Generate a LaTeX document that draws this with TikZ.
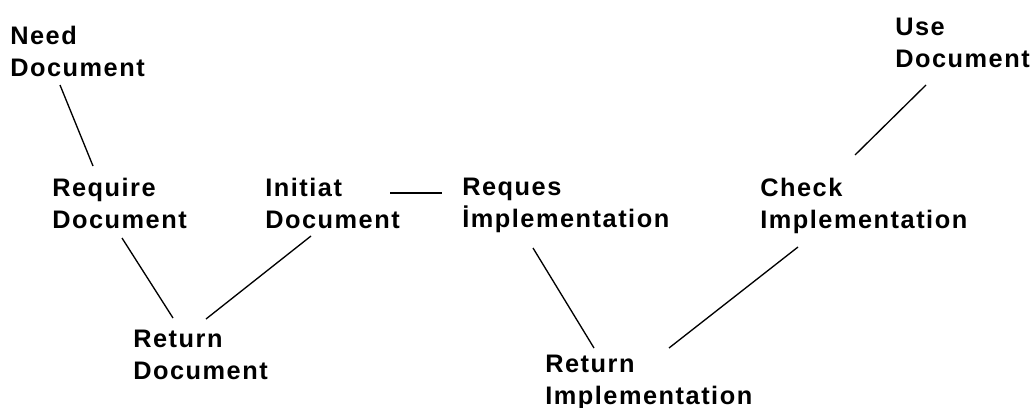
\documentclass[tikz,border=0pt]{standalone}
\usepackage{fontspec}
\newfontfamily\diagfont[LetterSpace=6]{Liberation Sans}
\usepackage{tikz}
\usetikzlibrary{calc}

\begin{document}
\begin{tikzpicture}[x=0.75pt, y=-0.75pt,
  actnode/.style={anchor=north west, inner sep=0pt, align=left, font=\diagfont\bfseries\fontsize{19}{24}\selectfont},
  link/.style={line width=1pt, black}]
\useasboundingbox (0,0) rectangle (1034,407);
\node[actnode] (need) at (10,26) {Need\\Document};
\node[actnode] (require) at (52,178) {Require\\Document};
\node[actnode] (initiat) at (265,178) {Initiat\\Document};
\node[actnode] (reques) at (462,178) {Reques\\İmplementation};
\node[actnode] (check) at (760,178) {Check\\Implementation};
\node[actnode] (use) at (895,18) {Use\\Document};
\node[actnode] (retdoc) at (133,330) {Return\\Document};
\node[actnode] (retimpl) at (545,355) {Return\\Implementation};
\draw[link] ($(need.north west)+(50,59)$) -- ($(require.north west)+(41,-12)$);
\draw[link] ($(require.north west)+(70,60)$) -- ($(retdoc.north west)+(40,-12)$);
\draw[link] ($(initiat.north west)+(46,58)$) -- ($(retdoc.north west)+(73,-11)$);
\draw[link] ($(initiat.north west)+(125,15)$) -- ($(reques.north west)+(-20,15)$);
\draw[link] ($(reques.north west)+(71,70)$) -- ($(retimpl.north west)+(49,-7)$);
\draw[link] ($(retimpl.north west)+(124,-7)$) -- ($(check.north west)+(38,69)$);
\draw[link] ($(check.north west)+(95,-23)$) -- ($(use.north west)+(31,67)$);
\end{tikzpicture}
\end{document}
